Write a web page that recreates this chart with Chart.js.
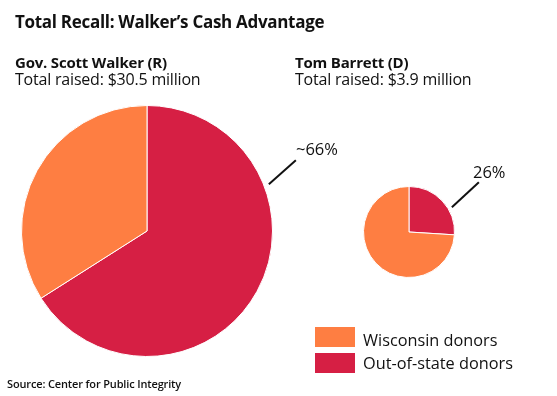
<!DOCTYPE html>
<html>
<head>
<meta charset="utf-8">
<script src="https://cdn.jsdelivr.net/npm/chart.js"></script>
<style>
    body { margin: 0; background: #fff; }
    #wrap { position: relative; width: 557px; height: 396px; overflow: hidden; font-family: "Open Sans", sans-serif; color: #111; }
    #wrap canvas { position: absolute; left: 0; top: 0; }
    .txt { position: absolute; white-space: nowrap; line-height: 1; }
    .title { left: 15px; top: 13px; font-size: 17px; font-weight: 700; letter-spacing: -0.3px; }
    .name { font-size: 15px; font-weight: 700; letter-spacing: -0.2px; }
    .raised { font-size: 16px; letter-spacing: -0.2px; }
    .callout { font-size: 16.5px; }
    .legend-box { position: absolute; width: 40px; height: 20px; }
    .legend-label { font-size: 16.3px; }
    .source { left: 7px; top: 378px; font-size: 11px; font-weight: 600; letter-spacing: -0.15px; }
</style>
</head>
<body>
<div id="wrap">
    <canvas id="walkerChart" width="557" height="396"></canvas>
    <canvas id="barrettChart" width="557" height="396"></canvas>

    <div class="txt title">Total Recall: Walker’s Cash Advantage</div>
    <div class="txt name" style="left:15px; top:55px;">Gov. Scott Walker (R)</div>
    <div class="txt raised" style="left:15px; top:71px;">Total raised: $30.5 million</div>
    <div class="txt name" style="left:295px; top:55px;">Tom Barrett (D)</div>
    <div class="txt raised" style="left:295px; top:71px;">Total raised: $3.9 million</div>

    <div class="txt callout" style="left:296px; top:141px;">~66%</div>
    <div class="txt callout" style="left:473px; top:164px;">26%</div>

    <div class="legend-box" style="left:315px; top:327px; background:#fe7e42;"></div>
    <div class="txt legend-label" style="left:363px; top:332px;">Wisconsin donors</div>
    <div class="legend-box" style="left:315px; top:353px; background:#d61f44;"></div>
    <div class="txt legend-label" style="left:363px; top:355px;">Out-of-state donors</div>

    <div class="txt source">Source: Center for Public Integrity</div>
</div>

<script>
// percentages, clockwise from 12 o'clock
const donorTypes = ["Out-of-state donors", "Wisconsin donors"];
const walkerShares = [66, 34];
const barrettShares = [26, 74];
const sliceColors = ["#d61f44", "#fe7e42"];

// leader line from the pie edge towards the percentage label
const calloutLine = {
    id: "calloutLine",
    afterDraw: (chart, args, opts) => {
        const arc = chart.getDatasetMeta(0).data[0];
        if (!arc) return;
        const {ctx} = chart;
        const a = opts.angle * Math.PI / 180;
        const r = arc.outerRadius + opts.gap;
        const x0 = arc.x + Math.sin(a) * r;
        const y0 = arc.y - Math.cos(a) * r;

        ctx.save();
        ctx.strokeStyle = "#111";
        ctx.lineWidth = 2;
        ctx.beginPath();
        ctx.moveTo(x0, y0);
        ctx.lineTo(x0 + opts.dx, y0 + opts.dy);
        ctx.stroke();
        ctx.restore();
    }
};

const generatePie = (id, shares, padding, callout) => {
    const ctx = document.getElementById(id).getContext("2d");
    return new Chart(ctx, {
        type: "pie",
        data: {
            labels: donorTypes,
            datasets: [{
                data: shares,
                backgroundColor: sliceColors,
                borderColor: "#ffffff",
                borderWidth: 1,
            }]
        },
        plugins: [calloutLine],
        options: {
            responsive: false,
            animation: false,
            events: [],
            layout: {padding: padding},
            plugins: {
                legend: {display: false},
                tooltip: {enabled: false},
                calloutLine: callout,
            },
        },
    });
}

generatePie("walkerChart", walkerShares,
    {left: 21, top: 105, right: 284, bottom: 39},
    {angle: 69, gap: 5, dx: 27, dy: -24});

generatePie("barrettChart", barrettShares,
    {left: 363, top: 186, right: 102, bottom: 118},
    {angle: 60, gap: 4, dx: 27, dy: -25});
</script>
</body>
</html>
